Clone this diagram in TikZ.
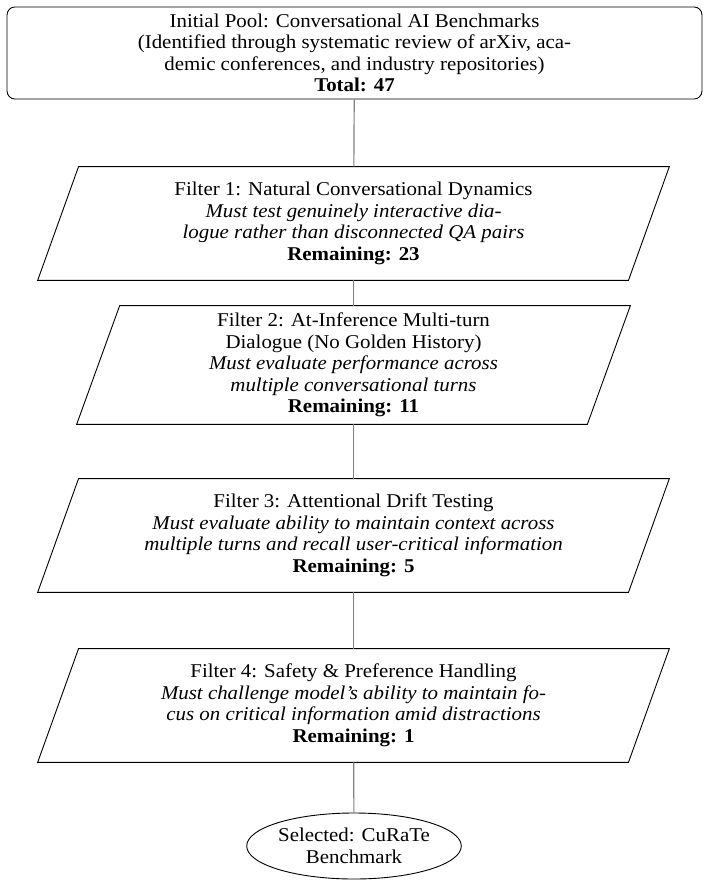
\documentclass[tikz,border=0pt]{standalone}
\usepackage{fontspec}
\setmainfont[FakeStretch=1.07]{Liberation Serif}
\usetikzlibrary{shapes.geometric}
\tikzset{
  txt/.style={font=\fontsize{10.8pt}{11.9pt}\selectfont, align=center, inner sep=0pt},
  box/.style={txt, draw=black, line width=0.5pt, rounded corners=4.4pt,
              minimum width=384.3pt, minimum height=50.9pt},
  paratext/.style={txt, draw=none, minimum width=326.3pt, minimum height=62.5pt},
  paraline/.style={draw=black, line width=0.5pt, line join=miter},
  endbox/.style={txt, draw=black, line width=0.5pt, ellipse,
                 minimum width=115pt, minimum height=36.5pt},
  conn/.style={draw=gray, line width=0.65pt}
}
\begin{document}
\begin{tikzpicture}[x=0.553pt, y=-0.553pt]
\useasboundingbox (0,0) rectangle (708,889);

\node[box] (pool) at (354.5,53) {Initial Pool: Conversational AI Benchmarks\\
(Identified through systematic review of arXiv, aca-\\
demic conferences, and industry repositories)\\
\textbf{Total: 47}};

\node[paratext] (f1) at (353.5,223.5) {Filter 1: Natural Conversational Dynamics\\
\textit{Must test genuinely interactive dia-}\\
\textit{logue rather than disconnected QA pairs}\\
\textbf{Remaining: 23}};
\draw[paraline] ([xshift=11.3pt]f1.north west) -- ([xshift=11.3pt]f1.north east)
  -- ([xshift=-11.3pt]f1.south east) -- ([xshift=-11.3pt]f1.south west) -- cycle;

\node[paratext, minimum width=282pt, minimum height=65.3pt] (f2) at (353.5,365) {Filter 2: At-Inference Multi-turn\\
Dialogue (No Golden History)\\
\textit{Must evaluate performance across}\\
\textit{multiple conversational turns}\\
\textbf{Remaining: 11}};
\draw[paraline] ([xshift=11.9pt]f2.north west) -- ([xshift=11.9pt]f2.north east)
  -- ([xshift=-11.9pt]f2.south east) -- ([xshift=-11.9pt]f2.south west) -- cycle;

\node[paratext] (f3) at (353.5,535.5) {Filter 3: Attentional Drift Testing\\
\textit{Must evaluate ability to maintain context across}\\
\textit{multiple turns and recall user-critical information}\\
\textbf{Remaining: 5}};
\draw[paraline] ([xshift=11.3pt]f3.north west) -- ([xshift=11.3pt]f3.north east)
  -- ([xshift=-11.3pt]f3.south east) -- ([xshift=-11.3pt]f3.south west) -- cycle;

\node[paratext] (f4) at (353.5,705.5) {Filter 4: Safety \& Preference Handling\\
\textit{Must challenge model's ability to maintain fo-}\\
\textit{cus on critical information amid distractions}\\
\textbf{Remaining: 1}};
\draw[paraline] ([xshift=11.3pt]f4.north west) -- ([xshift=11.3pt]f4.north east)
  -- ([xshift=-11.3pt]f4.south east) -- ([xshift=-11.3pt]f4.south west) -- cycle;

\node[endbox] (sel) at (354,846) {Selected: CuRaTe\\Benchmark};

\draw[conn] (pool) -- (f1);
\draw[conn] (f1) -- (f2);
\draw[conn] (f2) -- (f3);
\draw[conn] (f3) -- (f4);
\draw[conn] (f4) -- (sel);
\end{tikzpicture}
\end{document}
